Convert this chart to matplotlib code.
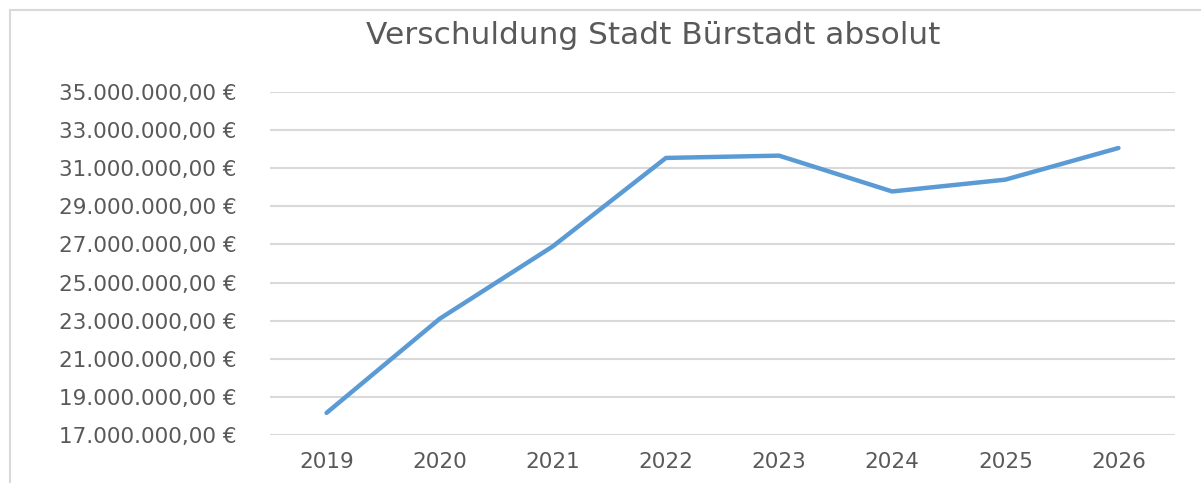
import matplotlib.pyplot as plt
from matplotlib.lines import Line2D
from matplotlib.ticker import FuncFormatter

# Data
years = ["2019", "2020", "2021", "2022", "2023", "2024", "2025", "2026"]
debt = [18.16e6, 23.1e6, 26.9e6, 31.54e6, 31.66e6, 29.78e6, 30.4e6, 32.06e6]
y_ticks = [17e6, 19e6, 21e6, 23e6, 25e6, 27e6, 29e6, 31e6, 33e6, 35e6]

plt.rcParams["font.family"] = ["DejaVu Sans"]

W, H = 1201, 483


def euro(v, _pos=None):
    # German number format: 35.000.000,00 €
    s = f"{v:,.2f}".replace(",", "X").replace(".", ",").replace("X", ".")
    return f"{s} €"


fig = plt.figure(figsize=(W / 100, H / 100), dpi=100)
ax = fig.add_axes([270 / W, (H - 435) / H, (1175 - 270) / W, (435 - 92) / H])

ax.plot(range(len(years)), debt, color="#5B9BD5", linewidth=3.2,
        solid_capstyle="round", solid_joinstyle="round", zorder=3)

ax.set_xlim(-0.5, len(years) - 0.5)
ax.set_ylim(17e6, 35e6)
ax.set_yticks(y_ticks)
ax.yaxis.set_major_formatter(FuncFormatter(euro))
ax.set_xticks(range(len(years)))
ax.set_xticklabels(years)

ax.grid(axis="y", color="#D9D9D9", linewidth=1.5)
ax.set_axisbelow(True)
for side in ["top", "right", "left", "bottom"]:
    ax.spines[side].set_visible(False)
ax.tick_params(axis="both", length=0, colors="#595959", labelsize=15.5)
ax.tick_params(axis="y", pad=24)
ax.tick_params(axis="x", pad=12)

fig.text(653 / W, 1 - 36 / H, "Verschuldung Stadt Bürstadt absolut",
         ha="center", va="center", fontsize=22.5, color="#595959")

# chart frame (top and left edges)
fig.add_artist(Line2D([10 / W, 1.0], [1 - 10 / H, 1 - 10 / H],
                      transform=fig.transFigure, color="#D9D9D9", linewidth=1.5))
fig.add_artist(Line2D([10 / W, 10 / W], [0.0, 1 - 10 / H],
                      transform=fig.transFigure, color="#D9D9D9", linewidth=1.5))

fig.savefig("out.png", dpi=100)
